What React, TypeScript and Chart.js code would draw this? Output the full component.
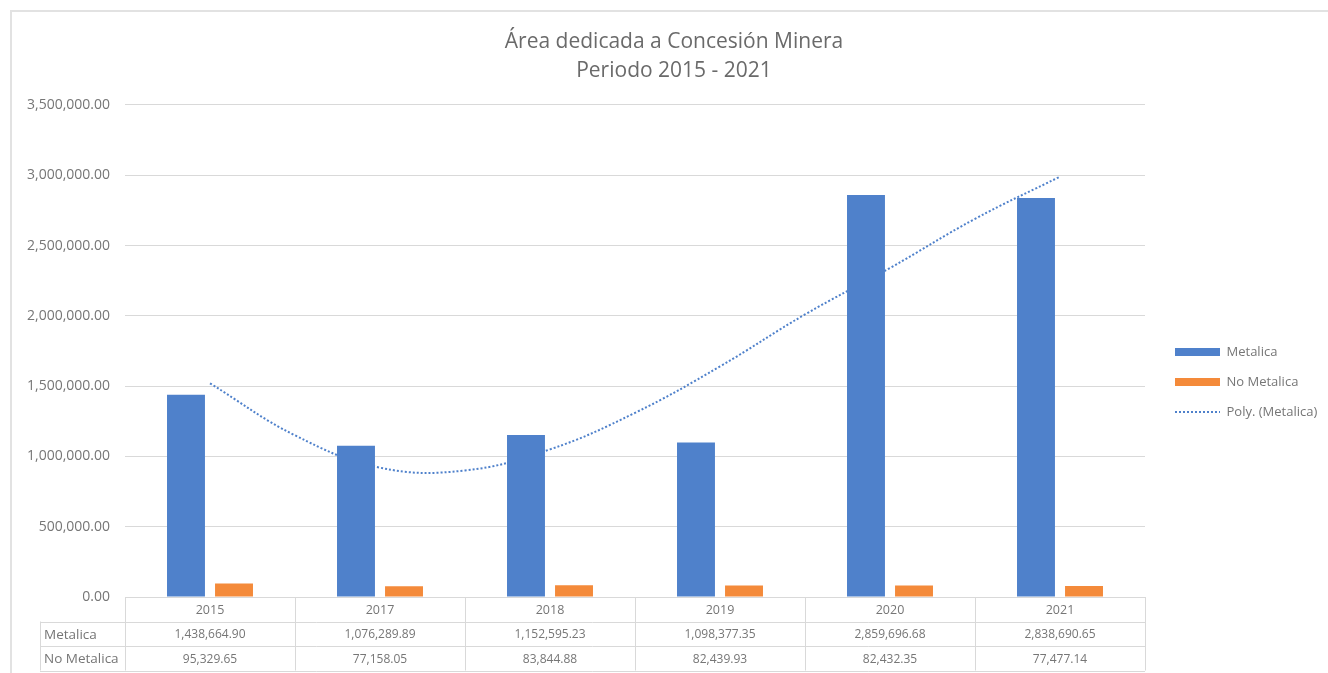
import React, { useEffect, useRef } from "react";
import { Chart, registerables } from "chart.js";

Chart.register(...registerables);

const TITLE_LINES = ["Área dedicada a Concesión Minera", "Periodo 2015 - 2021"];
const YEARS = ["2015", "2017", "2018", "2019", "2020", "2021"];
const METALICA = [1438664.9, 1076289.89, 1152595.23, 1098377.35, 2859696.68, 2838690.65];
const NO_METALICA = [95329.65, 77158.05, 83844.88, 82439.93, 82432.35, 77477.14];
// Polynomial trendline at half-category steps
const TREND_POS = [0, 0.5, 1, 1.5, 2, 2.5, 3, 3.5, 4, 4.5, 5];
const TREND_VALUES = [1520000, 1150000, 920000, 900000, 1050000, 1310000, 1640000, 2010000, 2340000, 2690000, 2990000];
const SERIES_LABELS = ["Metalica", "No Metalica", "Poly. (Metalica)"];
const Y_MIN = 0;
const Y_MAX = 3500000;
const Y_STEP = 500000;

const BLUE = "#4f81cb";
const ORANGE = "#f48a3a";
const TEXT = "#767676";
const GRID = "#d9d9d9";
const FONT = "'Open Sans', 'DejaVu Sans', sans-serif";

const fmt = (v: number) =>
  v.toLocaleString("en-US", { minimumFractionDigits: 2, maximumFractionDigits: 2 });

const framePlugin = {
  id: "frame",
  beforeDraw(chart: any) {
    const { ctx, width, height } = chart;
    ctx.save();
    ctx.fillStyle = "#ffffff";
    ctx.fillRect(0, 0, width, height);
    ctx.strokeStyle = "#e2e2e2";
    ctx.lineWidth = 2;
    ctx.strokeRect(11, 11, width + 20, height + 20);
    ctx.restore();
  },
};

const layoutTweakPlugin = {
  id: "layoutTweak",
  afterLayout(chart: any) {
    const lg = chart.legend;
    if (lg) {
      const pad = lg.options.labels.padding;
      const dx = 1175 - (lg.left + pad);
      lg.left += dx;
      lg.right += dx;
      const colH = lg.columnSizes && lg.columnSizes[0] ? lg.columnSizes[0].height : 0;
      const cursorY = (lg.top + pad + lg.bottom - colH) / 2;
      const fs = lg.options.labels.font.size;
      const dy = 352 - (cursorY + fs / 2);
      lg.top += dy;
      lg.bottom += dy;
    }
    const tb = chart.titleBlock;
    if (tb) {
      const dx = 674 - (tb.left + tb.right) / 2;
      tb.left += dx;
      tb.right += dx;
    }
  },
};

const tablePlugin = {
  id: "dataTable",
  afterDraw(chart: any) {
    const { ctx, chartArea, scales } = chart;
    const xs = scales.x;
    const top = chartArea.bottom;
    const rowH = 24.5;
    const left = chartArea.left;
    const right = chartArea.right;
    const headerLeft = 40;
    const labels: string[] = chart.data.labels;
    const n = labels.length;
    const px = (v: number) => Math.round(v) + 0.5;
    ctx.save();
    ctx.strokeStyle = GRID;
    ctx.lineWidth = 1;
    ctx.beginPath();
    for (let r = 1; r <= 3; r++) {
      const y = px(top + r * rowH);
      ctx.moveTo(headerLeft, y);
      ctx.lineTo(right, y);
    }
    for (let k = 0; k <= n; k++) {
      const x = px(k === 0 ? left : k === n ? right : xs.getPixelForValue(k - 0.5));
      ctx.moveTo(x, top);
      ctx.lineTo(x, top + 3 * rowH);
    }
    ctx.moveTo(px(headerLeft), top + rowH);
    ctx.lineTo(px(headerLeft), top + 3 * rowH);
    ctx.stroke();

    ctx.fillStyle = TEXT;
    ctx.textBaseline = "middle";
    ctx.textAlign = "center";
    const rows = [
      labels,
      METALICA.map((v) => fmt(v)),
      NO_METALICA.map((v) => fmt(v)),
    ];
    rows.forEach((row: string[], r: number) => {
      ctx.font = r === 0 ? `12.5px ${FONT}` : `12px ${FONT}`;
      const yc = top + r * rowH + rowH / 2 + 1;
      row.forEach((t, i) => {
        ctx.fillText(t, xs.getPixelForValue(i), yc);
      });
    });
    ctx.textAlign = "left";
    ctx.font = `13.5px ${FONT}`;
    ctx.fillText(SERIES_LABELS[0], headerLeft + 4, top + rowH * 1.5 + 1);
    ctx.fillText(SERIES_LABELS[1], headerLeft + 4, top + rowH * 2.5 + 1);
    ctx.restore();
  },
};

export default function App() {
  const ref = useRef<HTMLCanvasElement | null>(null);

  useEffect(() => {
    document.body.style.margin = "0";
    const canvas = ref.current;
    if (!canvas) return;
    const chart = new Chart(canvas, {
      type: "bar",
      data: {
        labels: YEARS,
        datasets: [
          {
            type: "bar",
            label: SERIES_LABELS[0],
            data: METALICA.map((y, i) => ({ x: i, y })),
            backgroundColor: BLUE,
            borderWidth: 0,
            categoryPercentage: 0.565,
            barPercentage: 0.79,
            order: 1,
          } as any,
          {
            type: "bar",
            label: SERIES_LABELS[1],
            data: NO_METALICA.map((y, i) => ({ x: i, y })),
            backgroundColor: ORANGE,
            borderWidth: 0,
            categoryPercentage: 0.565,
            barPercentage: 0.79,
            order: 1,
          } as any,
          {
            type: "line",
            label: SERIES_LABELS[2],
            data: TREND_POS.map((x, i) => ({ x, y: TREND_VALUES[i] })),
            borderColor: BLUE,
            backgroundColor: BLUE,
            borderWidth: 2,
            borderDash: [2, 2],
            pointRadius: 0,
            tension: 0.4,
            fill: false,
            order: 2,
          } as any,
        ],
      },
      options: {
        responsive: false,
        animation: false,
        events: [],
        layout: { padding: { left: 20, right: 18, top: 0, bottom: 76 } },
        scales: {
          x: {
            type: "linear",
            display: false,
            offset: false,
            min: -0.5,
            max: 5.5,
            ticks: { stepSize: 1 },
          },
          y: {
            min: Y_MIN,
            max: Y_MAX,
            border: { display: false },
            grid: { color: GRID, drawTicks: false, lineWidth: 1 },
            ticks: {
              stepSize: Y_STEP,
              padding: 15,
              color: TEXT,
              font: { family: FONT, size: 14 },
              callback: (v: any) => fmt(Number(v)),
            },
            afterFit: (s: any) => {
              s.width = 105;
            },
          },
        },
        plugins: {
          tooltip: { enabled: false },
          title: {
            display: true,
            text: TITLE_LINES,
            color: "#6a6a6a",
            font: { family: FONT, size: 21, weight: "normal", lineHeight: 1.38 },
            padding: { top: 28, bottom: 19 },
          },
          legend: {
            display: true,
            position: "right",
            fullSize: false,
            maxWidth: 165,
            labels: {
              usePointStyle: true,
              pointStyleWidth: 45,
              boxWidth: 45,
              boxHeight: 8,
              padding: 17,
              color: TEXT,
              font: { family: FONT, size: 13 },
              generateLabels: (chart: any) => {
                const items = Chart.defaults.plugins.legend.labels.generateLabels(chart);
                items.sort((a: any, b: any) => a.datasetIndex - b.datasetIndex);
                return items.map((it: any) => {
                  if (it.datasetIndex === 2) {
                    return { ...it, pointStyle: "line", lineWidth: 2, lineDash: [2, 2], strokeStyle: BLUE };
                  }
                  return { ...it, pointStyle: "rect", lineWidth: 0 };
                });
              },
            },
          },
        },
      },
      plugins: [framePlugin, layoutTweakPlugin, tablePlugin],
    } as any);
    return () => chart.destroy();
  }, []);

  return (
    <div style={{ width: 1328, height: 673 }}>
      <canvas ref={ref} width={1328} height={673} style={{ display: "block" }} />
    </div>
  );
}
